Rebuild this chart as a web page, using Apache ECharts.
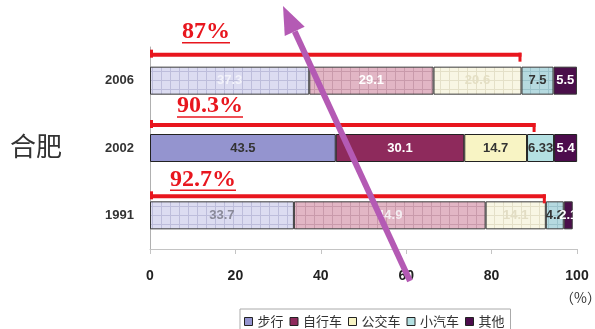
<!DOCTYPE html>
<html>
<head>
<meta charset="utf-8">
<script src="https://cdn.jsdelivr.net/npm/echarts@6/dist/echarts.min.js"></script>
<style>
  html, body { margin: 0; padding: 0; background: #fff; }
  #chart { width: 595px; height: 329px; }
</style>
</head>
<body>
<div id="chart"></div>
<script>
// Hefei travel mode split (%), categories listed bottom to top
const years = ['1991', '2002', '2006'];
const walk = [33.7, 43.5, 37.3];
const bicycle = [44.9, 30.1, 29.1];
const bus = [14.1, 14.7, 20.6];
const car = [4.2, 6.33, 7.5];
const other = [2.1, 5.4, 5.5];
const modeNames = ['步行', '自行车', '公交车', '小汽车', '其他'];
// Share of non-motorised + bus trips for each year
const shareValues = [92.7, 90.3, 87];
const shareLabels = ['92.7%', '90.3%', '87%'];
const xTicks = [0, 20, 40, 60, 80, 100];

// ---- styling ----
const solid = ['#9494cf', '#8e2a5c', '#f8f4c4', '#b4e0e2', '#4c0c4c'];
const washedBg = ['#dcdcf1', '#e2b6c5', '#f8f6e4', '#b6dae0', '#4a0f4a'];
const washedLine = ['#bdbddb', '#c99aab', '#e4e0c8', '#9cc4cc', '#4a0f4a'];
const solidLabel = ['#333', '#fff', '#333', '#333', '#fff'];
const washedLabel = [
  ['#8a8a99', '#f4eef2', '#e2ddc4', '#333', '#fff'],  // 1991
  ['#f2f2fa', '#fff', '#e4dfc4', '#333', '#fff']      // 2006
];

function gridPattern(bg, line) {
  const c = document.createElement('canvas');
  c.width = 9; c.height = 9;
  const g = c.getContext('2d');
  g.fillStyle = bg; g.fillRect(0, 0, 9, 9);
  g.fillStyle = line;
  g.fillRect(8, 0, 1, 9);
  g.fillRect(0, 8, 9, 1);
  return { image: c, repeat: 'repeat' };
}

const seriesValues = [walk, bicycle, bus, car, other];

const series = seriesValues.map((vals, s) => ({
  name: modeNames[s],
  type: 'bar',
  stack: 'total',
  barWidth: 28,
  itemStyle: { color: solid[s], borderColor: '#222', borderWidth: 1 },
  label: {
    show: true,
    position: 'inside',
    fontFamily: 'Liberation Sans',
    fontWeight: 'bold',
    fontSize: 13,
    color: solidLabel[s],
    formatter: p => String(p.value)
  },
  data: vals.map((v, i) => {
    if (years[i] === '2002') return v;
    const wi = years[i] === '1991' ? 0 : 1;
    return {
      value: v,
      itemStyle: {
        color: s === 4 ? washedBg[s] : gridPattern(washedBg[s], washedLine[s]),
        borderColor: '#3a3a3a',
        borderWidth: 1
      },
      label: { color: washedLabel[wi][s] }
    };
  })
}));

const chart = echarts.init(document.getElementById('chart'), null, { renderer: 'canvas' });

chart.setOption({
  animation: false,
  backgroundColor: '#fff',
  grid: { left: 150, right: 18, top: 47, bottom: 80, containLabel: false },
  legend: {
    data: modeNames,
    left: 240,
    top: 309,
    itemWidth: 8,
    itemHeight: 8,
    itemGap: 6,
    padding: [6, 6, 8, 4],
    borderColor: '#aaa',
    borderWidth: 1,
    icon: 'rect',
    itemStyle: { borderColor: '#222', borderWidth: 1 },
    textStyle: { fontFamily: 'Noto Sans CJK SC', fontSize: 13, color: '#333' }
  },
  xAxis: {
    type: 'value',
    min: xTicks[0],
    max: xTicks[xTicks.length - 1],
    interval: xTicks[1] - xTicks[0],
    axisLine: { show: true, lineStyle: { color: '#c4c4c4' } },
    axisTick: { show: true, length: 5, lineStyle: { color: '#c4c4c4' } },
    splitLine: { show: false },
    axisLabel: {
      margin: 20,
      fontFamily: 'Liberation Sans',
      fontWeight: 'bold',
      fontSize: 14,
      color: '#222'
    }
  },
  yAxis: {
    type: 'category',
    data: years,
    axisLine: { show: true, lineStyle: { color: '#b0b0b0' } },
    axisTick: { show: false },
    axisLabel: {
      margin: 16,
      fontFamily: 'Liberation Sans',
      fontWeight: 'bold',
      fontSize: 13,
      color: '#333'
    }
  },
  series: series
});

// ---- annotations placed from data coordinates ----
const bracketLift = [19, 23, 26];
const textLift = [17, 19, 23];
const textStart = [20, 27, 32];
const red = '#e8161e';
const shareFont = 'bold 24px "Liberation Serif"';

const measure = document.createElement('canvas').getContext('2d');
measure.font = shareFont;

const graphics = [];
years.forEach((y, i) => {
  const p0 = chart.convertToPixel({ xAxisIndex: 0, yAxisIndex: 0 }, [0, y]);
  const p1 = chart.convertToPixel({ xAxisIndex: 0, yAxisIndex: 0 }, [shareValues[i], y]);
  const ly = p0[1] - bracketLift[i];
  graphics.push({
    type: 'line', z: 50,
    shape: { x1: p0[0], y1: ly, x2: p1[0], y2: ly },
    style: { stroke: red, lineWidth: 4 }
  });
  graphics.push({
    type: 'line', z: 50,
    shape: { x1: p0[0] + 1.5, y1: ly - 5, x2: p0[0] + 1.5, y2: ly + 3 },
    style: { stroke: red, lineWidth: 3 }
  });
  graphics.push({
    type: 'line', z: 50,
    shape: { x1: p1[0] - 1.5, y1: ly - 2, x2: p1[0] - 1.5, y2: ly + 7 },
    style: { stroke: red, lineWidth: 3 }
  });
  const tx = p0[0] + textStart[i];
  const ty = ly - textLift[i];
  const w = measure.measureText(shareLabels[i]).width;
  graphics.push({
    type: 'text', z: 50,
    x: tx, y: ty,
    style: {
      text: shareLabels[i],
      fill: red,
      font: shareFont,
      textAlign: 'left',
      textVerticalAlign: 'middle'
    }
  });
  graphics.push({
    type: 'line', z: 50,
    shape: { x1: tx, y1: ty + 11, x2: tx + w, y2: ty + 11 },
    style: { stroke: red, lineWidth: 1.5 }
  });
});

// city name and unit
graphics.push({
  type: 'text', left: 10, top: 133, z: 50,
  style: { text: '合肥', fill: '#333', font: '26px "Noto Sans CJK SC"' }
});
graphics.push({
  type: 'text', left: 560, top: 291, z: 50,
  style: { text: '（%）', fill: '#333', font: '14px "Noto Sans CJK SC"' }
});

// pointer arrow
const arrowColor = '#b45ab4';
const tail = [410, 281], tip = [283, 6];
const dx = tip[0] - tail[0], dy = tip[1] - tail[1];
const len = Math.hypot(dx, dy);
const ux = dx / len, uy = dy / len;
const headLen = 28, headHalf = 11;
const base = [tip[0] - ux * headLen, tip[1] - uy * headLen];
graphics.push({
  type: 'line', z: 60,
  shape: { x1: tail[0], y1: tail[1], x2: base[0], y2: base[1] },
  style: { stroke: arrowColor, lineWidth: 6 }
});
graphics.push({
  type: 'polygon', z: 60,
  shape: {
    points: [
      tip,
      [base[0] - uy * headHalf, base[1] + ux * headHalf],
      [base[0] + uy * headHalf, base[1] - ux * headHalf]
    ]
  },
  style: { fill: arrowColor }
});

chart.setOption({ graphic: graphics });
</script>
</body>
</html>
